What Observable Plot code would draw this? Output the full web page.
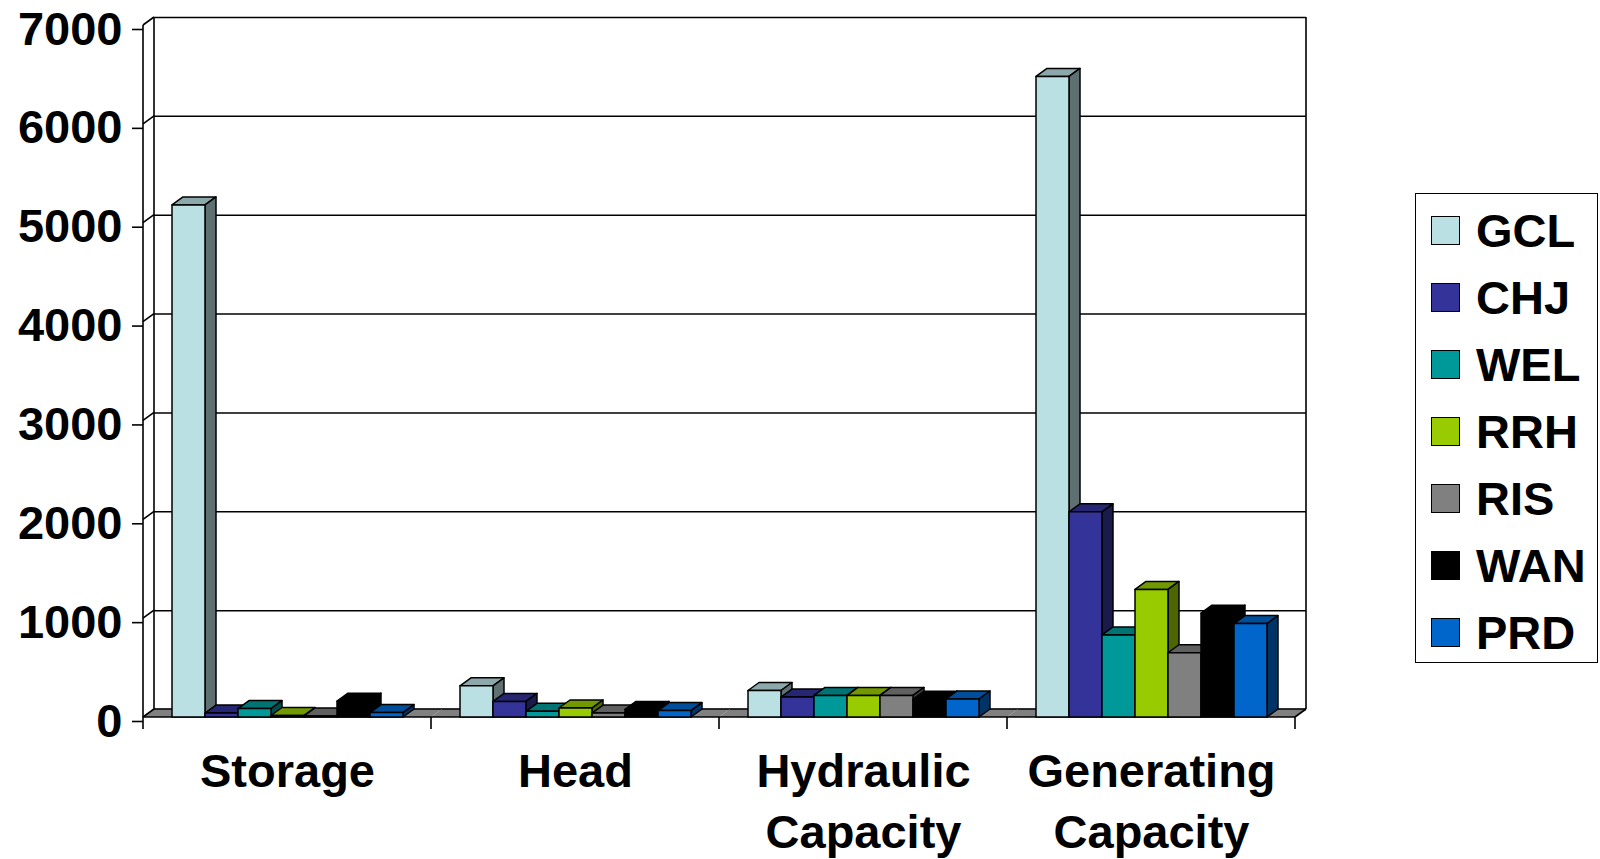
<!DOCTYPE html>
<html>
<head>
<meta charset="utf-8">
<script src="https://cdn.jsdelivr.net/npm/d3@7"></script>
<script src="https://cdn.jsdelivr.net/npm/@observablehq/plot@0.6"></script>
<style>
  html, body { margin: 0; padding: 0; background: #fff; overflow: hidden; }
  #wrap { position: relative; width: 1600px; height: 859px; font-family: "Liberation Sans", Arial, sans-serif; color: #000; }
  #legend { position: absolute; left: 1415px; top: 193px; width: 183px; height: 470px; box-sizing: border-box;
            border: 1.5px solid #000; background: #fff; padding-top: 3px; }
  .item { height: 67px; display: flex; align-items: center; }
  .sw { width: 29px; height: 29px; box-sizing: border-box; border: 1px solid #000; margin-left: 15px; margin-right: 16px; }
  .lab { font-size: 47px; font-weight: bold; line-height: 1; }
</style>
</head>
<body>
<div id="wrap"><div id="legend"></div></div>
<script>
// ---- data ----
const categories = ["Storage", "Head", "Hydraulic Capacity", "Generating Capacity"];
const series = ["GCL", "CHJ", "WEL", "RRH", "RIS", "WAN", "PRD"];
const colors = ["#BBE0E3", "#333399", "#009999", "#99CC00", "#808080", "#000000", "#0066CC"];
const storage    = [5180, 40, 85, 15, 10, 160, 45];
const head       = [315, 158, 57, 91, 40, 77, 65];
const hydraulic  = [268, 202, 218, 218, 218, 180, 182];
const generating = [6480, 2075, 830, 1290, 650, 1050, 945];
const yTicks = [0, 1000, 2000, 3000, 4000, 5000, 6000, 7000];

const valuesByCategory = [storage, head, hydraulic, generating];
const rows = [];
categories.forEach((c, ci) => series.forEach((s, si) => rows.push({category: c, series: s, value: valuesByCategory[ci][si]})));
const facetRows = categories.map((c, i) => ({category: c, k: i}));

// 3D depth offsets (pixels)
const DX = 11, DY = 8;

function shade(c, k) {
  const r = d3.rgb(c);
  return d3.rgb(r.r * k, r.g * k, r.b * k).formatHex();
}

function poly(g, pts, fill, stroke = "#000", sw = 1.5) {
  g.append("path")
    .attr("d", "M" + pts.map(p => p.join(",")).join("L") + "Z")
    .attr("fill", fill)
    .attr("stroke", stroke)
    .attr("stroke-width", sw)
    .attr("stroke-linejoin", "round");
}
function line(g, x1, y1, x2, y2, sw = 1.6) {
  g.append("line").attr("x1", x1).attr("y1", y1).attr("x2", x2).attr("y2", y2)
    .attr("stroke", "#000").attr("stroke-width", sw);
}

// bars drawn as boxes (front, top and side faces) from Plot's scaled channels
function bars3d(index, scales, values) {
  const g = d3.create("svg:g");
  let bw = scales.x && scales.x.bandwidth;
  if (typeof bw === "function") bw = bw();
  if (!(bw > 0)) bw = values.x[index[1]] - values.x[index[0]];
  for (const i of index) {
    const xa = values.x[i], xb = xa + bw;
    const yb = Math.max(values.y1[i], values.y2[i]);
    const yt = Math.min(values.y1[i], values.y2[i]);
    const c = values.fill[i];
    poly(g, [[xa, yt], [xb, yt], [xb + DX, yt - DY], [xa + DX, yt - DY]], shade(c, 0.75));
    poly(g, [[xb, yt], [xb + DX, yt - DY], [xb + DX, yb - DY], [xb, yb]], shade(c, 0.5));
    poly(g, [[xa, yt], [xb, yt], [xb, yb], [xa, yb]], c);
  }
  return g.node();
}

// walls, floor and axis lines, drawn per facet from the y scale and frame
function walls(index, scales, values, dims) {
  const g = d3.create("svg:g");
  if (!index.length) return g.node();
  const k = facetRows[index[0]].k;
  const first = k === 0, last = k === categories.length - 1;
  const L = dims.marginLeft, R = dims.width - dims.marginRight;
  const y0 = scales.y(0), yT = scales.y(yTicks[yTicks.length - 1]);
  g.append("path")
    .attr("d", `M${L},${y0}L${R},${y0}L${R + DX},${y0 - DY}L${L + DX},${y0 - DY}Z`)
    .attr("fill", "#808080");
  line(g, L, y0, R, y0);
  line(g, L + DX, y0 - DY, R + DX, y0 - DY);
  line(g, L, y0, L, y0 + 12);
  if (first) {
    line(g, L, yT, L, y0);
    line(g, L + DX, yT - DY, L + DX, y0 - DY);
    for (const t of yTicks) line(g, L, scales.y(t), L + DX, scales.y(t) - DY);
  }
  if (last) {
    line(g, R, y0, R, y0 + 12);
    line(g, R, y0, R + DX, y0 - DY);
    line(g, R + DX, yT - DY, R + DX, y0 - DY);
  }
  return g.node();
}

const chart = Plot.plot({
  width: 1600,
  height: 859,
  marginLeft: 142,
  marginRight: 305,
  marginTop: 25,
  marginBottom: 142,
  style: {fontFamily: "'Liberation Sans', Arial, sans-serif", background: "transparent", color: "#000"},
  fx: {domain: categories, padding: 0, label: null},
  x: {domain: series, paddingInner: 0, paddingOuter: 0.74, axis: null},
  y: {domain: [0, 7000], label: null},
  color: {domain: series, range: colors},
  marks: [
    Plot.ruleY(yTicks, {dx: DX, dy: -DY, stroke: "#000", strokeWidth: 1.5}),
    Plot.ruleY(facetRows, {fx: "category", y: () => 0, render: walls}),
    Plot.barY(rows, {fx: "category", x: "series", y: "value", fill: "series", render: bars3d}),
    Plot.axisY(yTicks, {tickSize: 11, tickPadding: 10, tickFormat: d => String(d), fontSize: 47, fontWeight: "bold",
                        strokeWidth: 1.6, dy: 4, label: null}),
    Plot.axisFx({anchor: "bottom", tickSize: 0, tickPadding: 26, fontSize: 47, fontWeight: "bold", lineHeight: 1.3,
                 tickFormat: d => d.replace(" ", "\n"), label: null})
  ]
});
document.getElementById("wrap").prepend(chart);

// legend
const legend = d3.select("#legend");
series.forEach((s, i) => {
  const it = legend.append("div").attr("class", "item");
  it.append("div").attr("class", "sw").style("background", colors[i]);
  it.append("div").attr("class", "lab").text(s);
});
</script>
</body>
</html>
